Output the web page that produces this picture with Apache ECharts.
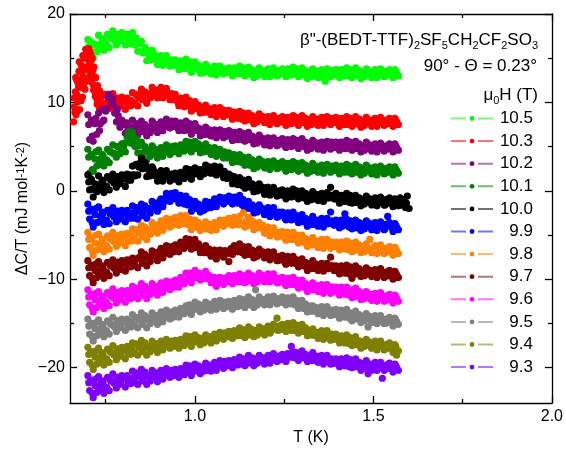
<!DOCTYPE html>
<html><head><meta charset="utf-8">
<script src="https://cdn.jsdelivr.net/npm/echarts@6/dist/echarts.min.js"></script>
<style>html,body{margin:0;padding:0;background:#fff}#c{width:566px;height:452px}</style>
</head><body><div id="c"></div>
<script>
// Field labels (mu0 H in tesla) and colours
const fields = ['10.5','10.3','10.2','10.1','10.0','9.9','9.8','9.7','9.6','9.5','9.4','9.3'];
const colors = ['#00ff00','#ff0000','#800080','#008000','#000000','#0000ff','#ff8000','#800000','#ff00ff','#808080','#808000','#8000ff'];
// temperature sampling of the two sweeps of each series (K)
const startT = [0.70,0.75,0.70,0.70,0.70,0.70,0.70,0.70,0.70,0.70,0.70,0.70];
const stepT = 0.005;
const startTB = [0.7025,0.7525,0.7025,0.7025,0.7025,0.7025,0.7025,0.7025,0.7025,0.7025,0.7025,0.7025];
const stepTB = 0.01;
const xMajorTicks = [1.0,1.5,2.0];
const xMinorTicks = [0.75,1.25,1.75];
const yMajorTicks = [-20,-10,0,10,20];
const yMinorTicks = [-15,-5,5,15];

// Delta C / T (mJ mol^-1 K^-2), offset curves, sweep A
const y105 = [17.1,15.6,16.8,15.0,16.5,15.7,17.6,16.6,17.2,15.9, 16.5,17.7,16.2,17.3,18.1,17.0,16.5,17.7,16.9,17.9, 17.5,16.5,17.7,17.2,16.6,17.9,16.6,17.3,15.8,16.7, 16.9,15.6,16.2,14.7,15.5,14.8,15.9,15.0,15.3,14.3, 14.5,15.3,14.2,14.8,15.3,14.5,14.1,14.8,14.2,14.8, 14.5,13.7,14.7,14.2,13.8,14.9,13.9,14.6,13.4,14.3, 14.6,13.8,14.2,13.3,13.9,13.4,14.3,13.6,13.9,13.2, 13.4,14.1,13.1,13.7,14.1,13.5,13.2,13.7,13.4,13.9, 13.6,13.0,13.9,13.5,13.2,14.1,13.3,13.9,13.0,13.7, 14.0,13.2,13.7,12.8,13.5,13.0,13.9,13.3,13.6,12.9, 13.1,13.8,12.9,13.5,13.9,13.3,13.0,13.6,13.2,13.8, 13.5,12.9,13.8,13.4,13.1,14.0,13.2,13.8,12.9,13.6, 13.9,13.1,13.6,12.7,13.4,12.9,13.8,13.2,13.5,12.8, 13.0,13.7,12.8,12.4,13.8,13.2,12.9,13.5,13.1,13.7, 13.4,12.8,13.7,13.3,13.0,13.9,13.1,13.7,12.8,13.5, 13.9,13.1,13.6,12.7,13.4,12.9,13.8,13.2,13.5,12.8, 13.0,13.7,12.8,13.4,13.8,13.2,12.9,13.5,13.1,13.7, 13.4,12.8,13.7,13.3,13.0];
const redSpike = [[0.660,7.8],[0.661,10.5],[0.662,9.5],[0.664,8.9],[0.665,11.2],[0.666,12.8],[0.667,8.6],[0.669,10.9],[0.670,12.4],[0.671,9.0],[0.672,10.1],[0.674,11.8],[0.675,13.5],[0.676,14.6],[0.677,9.2],[0.679,12.5],[0.680,11.7],[0.681,10.2],[0.682,14.2],[0.684,13.4],[0.685,10.6],[0.686,15.3],[0.687,12.9],[0.689,12.2],[0.690,15.0],[0.691,14.0],[0.692,11.5],[0.694,16.0],[0.695,13.8],[0.696,12.4],[0.697,15.7],[0.699,14.9],[0.700,12.6],[0.701,13.7],[0.702,16.1],[0.704,15.9],[0.705,14.4],[0.706,13.0],[0.707,15.5],[0.709,14.7],[0.710,13.1],[0.711,12.3],[0.712,15.0],[0.714,13.6],[0.715,12.0],[0.716,11.4],[0.717,14.0],[0.719,12.9],[0.720,11.2],[0.721,10.7],[0.722,12.8],[0.724,11.6],[0.725,10.4],[0.726,9.8],[0.727,11.9],[0.729,10.9],[0.730,10.0],[0.732,9.4],[0.733,11.3],[0.735,10.4],[0.736,9.6],[0.738,9.9],[0.740,10.8],[0.741,9.5],[0.743,9.9],[0.746,10.9]];
const y103 = [9.8,10.9,9.3,10.3,11.0,9.8,9.3,10.4,9.6,10.6, 10.2,9.2,10.5,10.1,9.6,11.1,9.9,10.9,9.6,10.8, 11.5,10.4,11.2,9.9,11.0,10.5,11.7,11.0,11.4,10.5, 10.8,11.7,10.5,11.2,11.6,10.8,10.3,11.0,10.3,10.9, 10.4,9.6,10.5,10.0,9.5,10.6,9.6,10.2,9.0,9.9, 10.1,9.3,9.7,8.8,9.4,8.9,9.7,9.1,9.3,8.6, 8.7,9.4,8.4,9.0,9.4,8.8,8.4,9.0,8.6,9.1, 8.7,8.1,8.9,8.5,8.2,9.0,8.3,8.8,7.9,8.6, 8.8,8.0,8.5,7.6,8.3,7.8,8.7,8.1,8.4,7.7, 7.7,8.4,7.5,8.1,8.5,7.9,7.6,8.2,7.8,8.4, 8.0,7.4,8.3,7.9,7.6,8.5,7.7,8.3,7.4,8.1, 8.5,7.7,8.2,7.3,8.0,7.5,8.4,7.8,8.1,7.4, 7.6,8.3,7.4,7.9,8.4,7.8,7.5,8.1,7.7,8.3, 7.9,7.3,8.2,7.8,7.5,8.4,7.6,8.2,7.3,8.0, 8.4,7.6,8.1,7.2,7.9,7.4,8.3,7.7,8.0,7.3, 7.5,8.2,7.3,7.9,8.3,7.7,7.4,8.0,7.6,8.2, 7.9,7.3,8.2,7.8,7.5];
const y102 = [8.6,5.8,8.0,5.6,7.6,6.4,8.8,7.6,9.2,8.0, 9.0,10.6,10.9,10.1,10.4,8.8,7.8,8.5,7.2,8.0, 7.5,6.5,7.7,7.2,6.6,8.0,6.8,7.6,6.3,7.4, 7.9,6.7,7.5,6.2,7.2,6.6,7.9,7.1,7.5,6.6, 6.9,7.8,6.8,7.5,8.1,7.4,7.1,7.9,7.3,7.9, 7.5,6.8,7.7,7.3,6.8,7.9,6.9,7.6,6.4,7.3, 7.6,6.8,7.1,6.2,6.9,6.4,7.2,6.7,6.9,6.2, 6.2,6.9,6.0,6.5,6.9,6.3,6.0,6.6,6.2,6.8, 6.3,5.7,6.6,6.2,5.8,6.7,5.9,6.5,5.6,6.3, 6.6,5.8,6.2,5.3,5.9,5.4,6.3,5.6,5.9,5.2, 5.3,6.0,5.1,5.6,6.0,5.4,5.1,5.7,5.3,5.9, 5.5,4.9,5.8,5.4,5.0,5.9,5.1,5.7,4.8,5.5, 5.9,5.0,5.5,4.6,5.3,4.8,5.7,5.1,5.4,4.7, 4.8,5.5,4.6,5.2,5.6,5.0,4.7,5.3,4.9,5.5, 5.2,4.6,5.5,5.1,4.8,5.7,4.9,5.5,4.6,5.3, 5.6,4.8,5.3,4.4,5.1,4.6,5.5,4.9,5.2,4.5, 4.6,5.3,4.4,5.0,5.4,4.8,4.5,5.1,4.7,5.3, 5.0,4.4,5.3,4.9,4.6];
const y101 = [4.7,2.0,4.1,2.2,3.6,2.8,4.6,3.6,4.1,2.8, 3.4,4.7,3.2,4.4,5.2,4.2,3.8,5.0,4.2,5.3, 5.0,4.4,6.1,6.7,5.4,6.6,5.2,5.9,4.3,5.2, 5.5,4.2,5.0,3.5,4.5,3.9,5.1,4.3,4.7,3.7, 4.0,4.9,3.9,4.6,5.2,4.5,4.1,5.0,4.4,5.1, 4.9,4.2,5.2,4.9,4.5,5.6,4.7,5.5,4.4,5.3, 5.6,4.8,5.3,4.3,5.0,4.4,5.3,4.6,4.9,4.1, 4.3,4.9,3.9,4.4,4.7,4.0,3.7,4.2,3.7,4.3, 3.9,3.2,4.1,3.6,3.3,4.1,3.3,3.8,2.9,3.6, 3.8,2.9,3.5,2.5,3.3,2.7,3.6,3.0,3.3,2.6, 2.6,3.3,2.4,3.0,3.4,2.8,2.5,3.1,2.7,3.3, 2.8,2.2,3.1,2.7,2.4,3.3,2.5,3.1,2.2,2.9, 3.2,2.4,2.9,2.0,2.7,2.2,3.1,2.5,2.8,2.1, 2.2,2.9,2.0,2.6,3.0,2.4,2.1,2.7,2.3,2.9, 2.5,1.9,2.8,2.4,2.1,3.0,2.2,2.8,1.9,2.6, 3.0,2.2,2.7,1.8,2.5,2.0,2.9,2.3,2.6,1.9, 2.0,2.7,1.8,2.4,2.8,2.2,1.9,2.5,2.1,2.7, 2.4,1.8,2.7,2.3,2.0];
const y100 = [1.8,0.1,1.3,-0.7,0.8,-0.1,1.7,0.7,1.2,-0.2, 0.4,1.6,0.1,1.2,1.9,0.9,0.4,1.5,0.8,1.8, 1.4,0.5,1.9,1.5,1.2,2.8,1.8,3.0,1.8,3.1, 3.7,2.5,3.2,1.6,2.4,1.7,2.7,1.8,2.1,1.1, 1.4,2.3,1.1,1.8,2.3,1.6,1.1,1.9,1.3,2.0, 1.7,1.0,2.1,1.7,1.4,2.5,1.6,2.4,1.3,2.2, 2.6,1.9,2.4,1.6,2.4,1.9,2.9,2.4,2.7,2.0, 2.1,2.8,1.8,2.4,2.7,2.0,1.5,2.0,1.4,1.9, 1.5,0.8,1.6,1.1,0.7,1.5,0.7,1.2,0.3,0.9, 1.3,0.4,0.8,-0.1,0.5,0.0,0.8,0.1,0.4,-0.4, -0.2,0.4,-0.5,0.0,0.4,-0.3,-0.6,0.0,-0.5,0.1, -0.3,-0.9,0.0,-0.4,-0.7,0.2,-0.6,0.0,-0.9,-0.2, 0.0,-0.8,-0.3,-1.2,-0.5,-1.0,-0.1,-0.7,-0.4,-1.1, -1.0,-0.3,-1.2,-0.6,-0.2,-0.8,0.4,-0.5,-0.9,-0.3, -0.8,-1.4,-0.5,-0.9,-1.2,-0.3,-1.1,-0.5,-1.4,-0.7, -0.5,-1.3,-0.8,-1.7,-1.0,-1.5,-0.6,-1.2,-0.9,-1.6, -1.5,-0.8,-1.7,-1.1,-0.7,-1.3,-1.6,-1.0,-1.4,-0.8, -1.2,-1.8,-0.9,-1.3,-1.7,-0.8,-1.6,-1.0,-1.9,-0.6,-2.0];
const y099 = [-1.5,-3.2,-2.1,-4.1,-2.7,-3.6,-1.8,-2.9,-2.4,-3.8, -3.4,-2.2,-3.7,-2.6,-1.9,-3.0,-3.5,-2.4,-3.2,-2.2, -2.5,-3.5,-2.2,-2.6,-3.1,-1.7,-2.8,-1.9,-3.2,-2.0, -1.5,-2.6,-1.7,-3.1,-2.0,-2.5,-1.2,-1.9,-1.4,-2.3, -1.9,-0.9,-1.8,-0.9,-0.3,-0.8,-1.2,-0.3,-0.9,-0.2, -0.5,-1.4,-0.5,-1.0,-1.5,-0.6,-1.6,-1.0,-2.3,-1.5, -1.2,-2.0,-1.5,-2.4,-1.7,-2.2,-1.2,-1.7,-1.3,-1.9, -1.7,-0.9,-1.8,-1.1,-0.7,-1.2,-1.5,-0.9,-1.2,-0.6, -0.9,-1.5,-0.7,-1.1,-1.4,-0.5,-1.4,-1.0,-2.0,-1.4, -1.2,-2.0,-1.6,-2.5,-1.9,-2.4,-1.6,-2.2,-2.0,-2.7, -2.6,-1.9,-2.9,-2.3,-1.9,-2.6,-3.0,-2.4,-2.8,-2.4, -2.7,-3.3,-2.5,-2.9,-3.3,-2.4,-3.2,-2.8,-3.6,-3.0, -2.7,-3.5,-3.1,-4.0,-3.3,-3.8,-2.9,-3.5,-3.3,-4.0, -3.8,-3.1,-4.1,-3.5,-3.1,-3.7,-2.4,-3.5,-3.9,-3.3, -3.6,-4.2,-3.3,-3.8,-2.6,-3.2,-4.0,-3.4,-4.3,-3.6, -3.3,-4.1,-3.6,-4.5,-3.8,-4.3,-3.4,-4.0,-3.7,-4.4, -4.3,-3.6,-4.5,-3.9,-3.5,-4.1,-4.4,-3.8,-2.9,-3.6, -4.0,-4.6,-3.7,-4.1,-4.4];
const y098 = [-4.7,-6.4,-5.3,-7.3,-5.9,-6.7,-4.9,-6.0,-5.5,-6.9, -6.3,-5.1,-6.6,-5.5,-4.7,-5.8,-6.3,-5.1,-5.9,-4.9, -5.2,-6.2,-4.8,-5.3,-5.7,-4.3,-5.4,-4.4,-5.7,-4.5, -3.9,-5.0,-4.1,-5.5,-4.4,-4.9,-3.6,-4.3,-3.9,-4.8, -4.4,-3.4,-4.5,-3.7,-3.1,-3.8,-4.1,-3.2,-3.8,-3.0, -3.2,-3.9,-2.8,-3.2,-3.7,-2.8,-3.8,-3.2,-4.4,-3.6, -3.3,-4.1,-3.6,-4.5,-3.8,-4.3,-3.5,-4.1,-3.8,-4.5, -4.3,-3.6,-4.4,-3.7,-3.3,-3.8,-4.0,-3.4,-3.7,-3.1, -3.3,-3.9,-3.0,-3.5,-3.8,-2.9,-3.7,-2.5,-4.1,-3.4, -3.0,-3.9,-3.4,-4.4,-3.7,-4.2,-3.6,-4.2,-3.9,-4.8, -4.8,-4.1,-5.1,-4.5,-4.2,-4.8,-5.2,-4.7,-5.1,-4.6, -5.0,-5.6,-4.7,-5.2,-5.5,-4.7,-5.5,-5.0,-5.9,-5.3, -5.0,-5.8,-5.4,-6.3,-5.6,-6.1,-5.3,-5.9,-5.7,-6.4, -6.2,-5.5,-6.5,-5.9,-5.5,-6.1,-6.5,-5.9,-6.3,-5.8, -6.1,-6.7,-5.8,-6.3,-6.6,-5.7,-6.5,-5.9,-6.9,-6.2, -5.8,-6.6,-6.1,-7.0,-6.3,-6.9,-6.0,-6.6,-5.5,-7.0, -6.9,-6.2,-7.1,-6.5,-6.1,-6.8,-7.1,-6.5,-6.9,-6.3, -6.7,-7.3,-6.4,-6.8,-7.1];
const y097 = [-7.9,-9.6,-8.4,-10.4,-9.0,-9.8,-8.0,-9.0,-8.5,-9.9, -9.3,-8.1,-9.6,-8.5,-7.8,-8.8,-9.3,-8.1,-8.9,-7.9, -8.2,-9.1,-7.8,-8.2,-8.6,-7.6,-8.4,-7.7,-8.7,-7.5, -6.9,-8.0,-7.2,-8.5,-7.5,-8.0,-6.8,-7.4,-7.0,-7.9, -7.5,-6.5,-7.6,-6.8,-6.2,-6.9,-7.2,-6.3,-6.9,-6.1, -6.3,-6.9,-5.8,-6.2,-6.5,-5.4,-6.2,-5.5,-6.6,-5.8, -5.5,-6.4,-6.0,-7.0,-6.4,-7.0,-6.2,-6.9,-6.6,-7.4, -7.3,-6.7,-7.7,-7.1,-6.7,-7.3,-7.5,-6.8,-7.1,-8.0, -6.6,-7.2,-6.2,-6.6,-6.9,-6.0,-6.9,-6.3,-7.3,-6.7, -6.3,-7.1,-6.7,-7.6,-6.9,-7.4,-6.6,-7.2,-6.9,-7.6, -7.5,-6.9,-7.8,-7.2,-6.9,-7.6,-7.9,-7.4,-7.8,-7.3, -7.7,-8.3,-7.4,-7.9,-8.2,-7.4,-8.2,-7.8,-8.6,-8.0, -7.7,-8.5,-8.1,-9.0,-8.3,-8.8,-7.9,-8.6,-8.3,-9.0, -8.9,-8.2,-9.1,-8.6,-8.2,-8.8,-7.5,-8.5,-9.0,-8.5, -8.8,-9.4,-8.5,-9.0,-9.3,-8.4,-9.2,-8.6,-9.9,-8.9, -8.5,-9.3,-8.8,-9.7,-9.1,-9.6,-8.7,-9.3,-9.0,-9.7, -9.6,-8.9,-9.8,-9.2,-8.8,-9.5,-9.8,-9.2,-9.6,-9.0, -9.4,-10.0,-9.1,-9.5,-9.8];
const y096 = [-11.2,-12.9,-11.7,-13.7,-12.3,-13.2,-11.4,-12.4,-11.9,-13.3, -12.7,-11.5,-13.0,-11.9,-11.1,-12.2,-12.7,-11.5,-12.3,-11.3, -11.6,-12.6,-11.3,-11.7,-12.2,-10.8,-11.9,-11.0,-12.2,-11.1, -10.5,-11.7,-10.8,-12.2,-11.2,-11.7,-10.5,-11.2,-10.8,-11.8, -11.4,-10.4,-11.5,-10.8,-10.2,-10.8,-11.2,-10.3,-10.9,-10.1, -10.3,-10.9,-9.8,-10.2,-10.5,-9.3,-10.1,-9.3,-10.4,-9.4, -9.0,-9.8,-9.3,-10.1,-9.4,-9.9,-9.1,-9.8,-9.6,-10.4, -10.4,-9.8,-10.8,-10.2,-9.8,-10.3,-10.6,-9.9,-10.3,-9.6, -9.9,-10.5,-9.6,-10.0,-10.3,-9.4,-10.2,-9.6,-10.4,-9.7, -9.3,-10.1,-9.6,-10.5,-9.8,-10.3,-9.3,-9.9,-9.6,-10.3, -10.1,-9.4,-10.3,-9.8,-9.4,-10.0,-10.4,-9.9,-10.3,-9.8, -10.1,-10.7,-9.9,-10.3,-10.6,-9.8,-10.6,-10.1,-11.0,-10.4, -10.1,-10.9,-10.5,-11.4,-10.7,-11.2,-10.4,-11.0,-10.7,-11.4, -11.3,-10.6,-11.6,-11.0,-10.6,-11.2,-11.6,-10.9,-11.4,-10.9, -11.2,-11.8,-10.9,-11.4,-11.7,-10.9,-11.7,-11.2,-12.1,-11.4, -11.0,-11.9,-11.4,-12.3,-11.6,-12.2,-11.4,-12.0,-11.7,-12.4, -12.3,-11.6,-12.5,-11.9,-11.5,-12.1,-12.5,-11.9,-12.3,-11.7, -12.1,-12.7,-11.8,-12.2,-12.5];
const y095 = [-14.5,-16.2,-15.0,-17.0,-15.6,-16.4,-14.6,-15.6,-15.1,-16.5, -15.9,-14.7,-16.2,-15.1,-14.3,-15.4,-15.9,-14.7,-15.5,-14.5, -14.8,-15.8,-14.5,-14.9,-15.4,-14.0,-15.2,-14.3,-15.5,-14.4, -13.8,-14.9,-14.1,-15.5,-14.4,-15.0,-13.8,-14.5,-14.1,-15.1, -14.7,-13.7,-14.8,-14.1,-13.5,-14.2,-14.5,-13.7,-14.3,-13.5, -13.7,-14.3,-13.3,-13.6,-13.9,-13.0,-13.7,-12.9,-14.0,-13.0, -12.6,-13.4,-12.8,-13.7,-13.0,-13.5,-12.6,-13.1,-12.8,-13.5, -13.2,-12.5,-13.4,-12.8,-12.4,-13.0,-13.3,-12.7,-13.1,-12.5, -12.8,-13.4,-12.4,-12.8,-13.1,-12.2,-12.9,-12.3,-13.2,-12.5, -12.0,-12.8,-12.3,-13.2,-11.2,-12.9,-12.0,-12.6,-12.3,-12.9, -12.7,-12.0,-12.9,-12.3,-11.9,-12.5,-12.8,-12.2,-12.6,-12.0, -12.3,-12.9,-12.1,-12.5,-12.8,-12.0,-12.9,-12.4,-13.3,-12.7, -12.4,-13.3,-12.8,-13.7,-13.0,-13.6,-13.0,-13.5,-13.2,-13.9, -13.8,-13.1,-14.1,-13.5,-13.1,-13.8,-14.1,-13.6,-14.0,-13.4, -13.8,-14.4,-13.5,-14.0,-14.3,-13.4,-14.3,-13.8,-14.7,-14.0, -13.6,-14.4,-14.0,-14.9,-14.2,-14.7,-13.9,-15.4,-14.2,-14.9, -14.8,-14.1,-15.0,-14.5,-14.1,-14.7,-15.0,-14.5,-14.9,-14.3, -14.7,-15.3,-14.4,-14.8,-15.1];
const y094 = [-17.7,-19.4,-18.2,-20.2,-18.8,-19.6,-17.8,-18.8,-18.3,-19.7, -19.1,-17.9,-19.4,-18.3,-17.5,-18.6,-19.1,-17.9,-18.7,-17.7, -18.0,-19.0,-17.6,-18.1,-18.5,-17.2,-18.3,-17.3,-18.6,-17.5, -16.9,-18.1,-17.2,-18.6,-17.6,-18.2,-17.0,-17.7,-17.3,-18.3, -17.9,-17.0,-18.0,-17.3,-16.8,-17.5,-17.8,-17.0,-17.6,-16.9, -17.1,-17.8,-16.8,-17.1,-17.5,-16.4,-17.2,-16.5,-17.6,-16.7, -16.3,-17.1,-16.6,-17.4,-16.7,-17.2,-16.3,-16.8,-16.5,-17.2, -16.9,-16.2,-17.0,-16.4,-16.0,-16.6,-16.8,-16.1,-16.5,-15.9, -16.1,-16.7,-15.8,-16.1,-16.4,-15.5,-16.3,-15.7,-16.6,-15.9, -15.4,-16.2,-15.7,-16.5,-15.8,-16.3,-15.4,-15.9,-15.6,-16.3, -16.0,-15.3,-16.1,-15.5,-15.1,-15.6,-14.4,-15.3,-15.7,-15.1, -15.3,-15.9,-15.0,-15.5,-15.8,-14.9,-15.8,-15.2,-16.1,-15.4, -15.1,-15.9,-15.5,-16.4,-15.8,-16.3,-15.6,-16.3,-16.0,-16.7, -16.5,-15.8,-16.8,-16.2,-15.8,-16.5,-16.9,-16.3,-16.8,-16.2, -16.6,-17.2,-16.4,-16.9,-17.2,-16.3,-17.1,-16.6,-17.5,-16.8, -16.5,-17.3,-17.0,-17.8,-17.1,-17.6,-16.8,-17.4,-17.1,-17.8, -17.7,-17.0,-18.0,-17.4,-17.0,-17.6,-18.0,-17.4,-17.8,-17.2, -17.7,-18.3,-17.4,-18.6,-18.1];
const y093 = [-20.9,-22.6,-21.4,-23.4,-22.0,-22.8,-21.0,-22.0,-21.5,-22.9, -22.3,-21.1,-22.6,-21.5,-20.7,-21.8,-22.3,-21.1,-21.9,-20.9, -21.2,-22.2,-20.9,-21.3,-21.8,-20.4,-21.5,-20.6,-21.9,-20.8, -20.2,-21.4,-20.5,-21.9,-20.9,-21.5,-20.3,-21.0,-20.6,-21.6, -21.2,-20.3,-21.3,-20.6,-20.1,-20.8,-21.1,-20.3,-20.9,-20.2, -20.4,-21.1,-20.1,-20.4,-20.8,-19.7,-20.5,-19.8,-20.9,-20.0, -19.6,-20.4,-19.8,-20.7,-20.0,-20.4,-19.5,-20.0,-19.7,-20.4, -20.1,-19.4,-20.3,-19.6,-19.2,-19.8,-20.1,-19.5,-19.8,-19.2, -19.4,-20.0,-19.1,-19.4,-19.7,-18.8,-19.5,-19.0,-19.8,-19.1, -18.6,-19.4,-18.9,-19.8,-19.0,-19.5,-18.6,-19.2,-18.9,-19.6, -19.3,-18.6,-19.5,-18.9,-18.4,-19.0,-19.3,-18.7,-19.1,-18.5, -18.7,-19.3,-18.4,-18.8,-17.6,-18.2,-18.9,-18.3,-19.2,-18.5, -18.1,-18.9,-18.5,-19.3,-18.7,-19.2,-18.3,-18.9,-18.7,-19.4, -19.3,-18.6,-19.6,-19.0,-18.6,-19.3,-19.6,-19.1,-19.5,-19.0, -19.3,-19.9,-19.0,-19.5,-19.8,-18.9,-19.7,-19.1,-20.0,-19.4, -19.0,-19.8,-19.4,-20.3,-19.6,-20.1,-19.2,-20.7,-19.6,-20.3, -20.1,-19.4,-20.3,-19.8,-19.4,-21.2,-20.3,-19.7,-20.1,-19.5, -19.9,-20.5,-19.6,-20.0,-20.3];

// sweep B (interleaved temperatures)
const b105 = [16.3,15.7,16.5,16.0,17.1, 16.6,17.4,17.1,17.7,17.1, 17.7,17.0,17.2,16.5,16.7, 15.7,16.0,15.3,15.7,14.8, 15.2,14.6,14.8,14.3,14.7, 14.1,14.5,14.1,14.5,13.9, 14.3,13.7,13.9,13.5,13.8, 13.5,13.8,13.6,13.8,13.4, 13.8,13.3,13.6,13.2,13.6, 13.2,13.6,13.4,13.7,13.3, 13.7,13.2,13.5,13.1,13.5, 13.2,13.6,13.4,13.7,13.3, 13.6,13.1,13.4,13.0,13.4, 13.1,13.5,13.3,13.6,13.2, 13.6,13.1,13.4,13.0,13.4, 13.1,13.5,13.3,13.6,13.2, 13.6,13.1,13.4,13.0,13.4, 13.2,13.5];
const b103 = [9.9,10.5,10.0,10.5,9.8, 10.4,9.8,10.2,9.8,10.5, 10.3,11.0,10.8,11.5,10.9, 11.5,10.9,11.1,10.5,10.8, 10.0,10.3,9.8,10.2,9.5, 9.8,9.2,9.4,8.9,9.2, 8.8,9.1,8.8,9.1,8.6, 8.9,8.3,8.6,8.1,8.5, 8.1,8.4,8.2,8.4,8.0, 8.3,7.8,8.1,7.7,8.1, 7.7,8.1,7.9,8.2,7.8, 8.2,7.7,8.0,7.6,8.0, 7.6,8.1,7.8,8.2,7.8, 8.1,7.6,7.9,7.5,7.9, 7.6,8.0,7.8,8.1,7.7, 8.1,7.6,7.9,7.5,7.9, 7.7,8.0];
const b102 = [7.5,6.2,8.2,6.8,7.9, 9.3,10.4,9.6,9.2,7.6, 7.7,7.0,7.2,6.7,7.2, 6.7,7.3,7.0,7.7,7.0, 7.6,7.2,7.6,7.3,7.8, 7.1,7.5,7.1,7.5,6.9, 7.3,6.7,6.9,6.4,6.8, 6.4,6.7,6.4,6.7,6.2, 6.6,6.0,6.2,5.8,6.1, 5.8,6.1,5.8,6.1,5.6, 5.9,5.3,5.6,5.2,5.5, 5.1,5.6,5.3,5.7,5.3, 5.5,5.1,5.3,5.0,5.4, 4.9,5.4,5.1,5.5,5.1, 5.4,4.9,5.2,4.8,5.2, 4.8,5.2,5.0,5.3,4.9, 5.2,4.8,5.0,4.7,5.1, 4.8,5.1];
const b101 = [3.8,2.4,4.4,3.0,4.0, 3.5,4.4,4.2,5.0,4.4, 5.4,5.5,5.9,5.0,5.1, 4.3,4.7,4.3,4.9,4.2, 4.7,4.3,4.7,4.3,4.9, 4.5,5.0,4.8,5.3,4.9, 5.3,4.8,5.0,4.5,4.8, 4.3,4.6,4.2,4.4,3.8, 4.1,3.5,3.7,3.2,3.5, 3.1,3.4,3.1,3.4,2.9, 3.2,2.7,3.0,2.6,3.0, 2.5,2.9,2.7,3.0,2.6, 2.8,2.4,2.6,2.3,2.7, 2.3,2.7,2.5,2.8,2.4, 2.7,2.2,2.5,2.1,2.5, 2.1,2.6,2.3,2.7,2.3, 2.6,2.1,2.4,2.0,2.4, 2.1,2.4];
const b100 = [1.0,0.2,0.7,0.1,1.1, 0.5,1.3,0.9,1.6,1.0, 1.6,1.2,1.8,1.7,2.7, 2.5,2.9,2.2,2.5,1.6, 2.1,1.5,1.8,1.3,1.8, 1.3,1.9,1.7,2.2,1.8, 2.3,1.9,2.4,2.1,2.6, 2.2,2.5,2.2,2.2,1.5, 1.7,1.0,1.1,0.6,0.9, 0.5,0.7,0.4,0.6,0.1, 0.4,-0.2,-0.1,-0.5,-0.2, -0.6,-0.2,-0.4,-0.1,-0.5, -0.3,-0.8,-0.5,-0.9,-0.5, -1.0,-0.6,-0.8,-0.5,-0.9, -0.7,-1.2,-0.9,-1.3,-0.9, -1.3,-0.9,-1.1,-0.8,-1.2, -1.0,-1.4,-1.2,-1.6,-1.2, -1.5,-1.1,-1.3,-1.6,-1.4];
const b099 = [-2.3,-3.6,-2.0,-3.5,-2.6, -3.3,-2.6,-2.9,-2.3,-3.0, -2.4,-3.0,-2.5,-3.1,-2.3, -2.8,-2.0,-2.1,-1.4,-1.8, -1.1,-1.3,-0.7,-1.0,-0.5, -1.0,-0.7,-1.2,-1.1,-1.9, -1.5,-2.0,-1.8,-2.0,-1.4, -1.6,-1.1,-1.2,-0.8,-1.1, -0.8,-1.3,-1.1,-1.6,-1.4, -2.0,-1.7,-2.0,-1.8,-2.3, -2.1,-2.7,-2.5,-2.9,-2.6, -3.1,-2.8,-3.1,-2.8,-3.3, -3.1,-3.6,-3.4,-3.8,-3.4, -3.8,-3.4,-3.7,-3.4,-3.8, -3.5,-4.0,-3.7,-4.1,-3.7, -4.2,-3.7,-4.0,-3.6,-4.0, -3.8,-4.2,-4.0,-4.3,-3.9, -4.2,-3.9];
const b098 = [-5.5,-6.8,-5.0,-6.6,-5.6, -6.2,-5.4,-5.7,-5.1,-5.7, -5.1,-5.6,-5.1,-5.6,-4.8, -5.2,-4.4,-4.6,-3.9,-4.4, -3.7,-4.1,-3.6,-4.0,-3.3, -3.6,-3.0,-3.4,-3.3,-4.0, -3.7,-4.2,-4.0,-4.3,-3.9, -4.3,-3.7,-3.8,-3.3,-3.6, -3.2,-3.6,-3.4,-3.8,-3.5, -3.9,-3.6,-4.0,-3.8,-4.4, -4.3,-4.9,-4.7,-5.2,-4.9, -5.4,-5.0,-5.4,-5.1,-5.6, -5.4,-5.9,-5.7,-6.1,-5.8, -6.2,-5.8,-6.1,-5.8,-6.3, -6.0,-6.5,-6.3,-6.7,-6.3, -6.7,-6.3,-6.6,-6.3,-6.7, -6.4,-6.9,-6.7,-7.0,-6.7, -7.0,-6.6];
const b097 = [-8.7,-9.9,-8.3,-9.6,-8.7, -9.2,-8.4,-8.7,-8.1,-8.7, -8.1,-8.6,-8.1,-8.5,-7.7, -8.2,-7.4,-7.6,-6.9,-7.4, -6.8,-7.2,-6.7,-7.0,-6.4, -6.7,-6.0,-6.2,-5.7,-6.2, -5.9,-6.5,-6.5,-7.0,-6.7, -7.3,-7.0,-7.3,-6.8,-7.0, -6.5,-6.8,-6.6,-7.0,-6.7, -7.2,-6.8,-7.1,-6.8,-7.3, -7.0,-7.6,-7.4,-7.9,-7.6, -8.1,-7.7,-8.1,-7.8,-8.3, -8.1,-8.6,-8.4,-8.8,-8.5, -8.9,-8.5,-8.8,-8.5,-9.0, -8.7,-9.2,-9.0,-9.4,-9.0, -9.4,-9.0,-9.3,-8.9,-9.4, -9.1,-9.6,-9.4,-9.7,-9.4, -9.7,-9.3];
const b096 = [-12.0,-13.3,-11.6,-12.9,-12.0, -12.6,-11.8,-12.1,-11.5,-12.1, -11.5,-12.0,-11.5,-12.0,-11.3, -11.8,-11.1,-11.3,-10.7,-11.3, -10.7,-11.1,-10.7,-11.0,-10.4, -10.7,-10.1,-10.2,-9.6,-9.9, -9.4,-9.8,-9.5,-9.9,-9.7, -10.4,-10.1,-10.4,-9.9,-10.2, -9.8,-10.2,-9.9,-10.3,-9.8, -10.2,-9.7,-9.9,-9.5,-9.9, -9.6,-10.1,-9.9,-10.4,-10.1, -10.5,-10.2,-10.5,-10.2,-10.7, -10.5,-11.0,-10.8,-11.2,-10.9, -11.3,-10.9,-11.2,-10.9,-11.4, -11.1,-11.6,-11.4,-11.8,-11.5, -11.9,-11.5,-11.9,-11.6,-12.1, -11.8,-12.3,-12.1,-12.4,-12.1, -12.4,-12.0];
const b095 = [-15.3,-16.5,-14.9,-16.2,-15.3, -15.8,-15.0,-15.3,-14.7,-15.3, -14.7,-15.2,-14.8,-15.3,-14.6, -15.1,-14.4,-14.6,-14.0,-14.6, -14.0,-14.4,-14.0,-14.4,-13.8, -14.1,-13.5,-13.7,-13.1,-13.5, -13.0,-13.4,-13.0,-13.3,-12.9, -13.2,-12.7,-13.0,-12.6,-13.0, -12.7,-13.1,-12.8,-13.0,-12.6, -12.9,-12.4,-12.6,-12.2,-12.6, -12.2,-12.6,-12.4,-12.7,-12.3, -12.7,-12.4,-12.7,-12.5,-13.0, -12.8,-13.3,-13.2,-13.6,-13.3, -13.8,-13.4,-13.7,-13.5,-14.0, -13.7,-14.2,-14.0,-14.4,-14.1, -14.5,-14.1,-14.4,-14.1,-14.6, -14.3,-14.8,-14.6,-15.0,-14.6, -15.0,-14.6];
const b094 = [-18.5,-19.7,-18.1,-19.4,-18.5, -19.0,-18.2,-18.5,-17.9,-18.5, -17.9,-18.4,-17.9,-18.4,-17.7, -18.2,-17.5,-17.8,-17.2,-17.8, -17.2,-17.7,-17.3,-17.7,-17.1, -17.5,-17.0,-17.2,-16.7,-17.1, -16.7,-17.1,-16.8,-17.0,-16.6, -16.9,-16.3,-16.5,-16.1,-16.4, -16.0,-16.4,-16.1,-16.4,-16.0, -16.3,-15.8,-15.9,-15.5,-15.9, -15.5,-15.9,-15.6,-15.8,-15.4, -15.7,-15.3,-15.6,-15.3,-15.7, -15.5,-16.0,-15.9,-16.3,-16.0, -16.5,-16.1,-16.5,-16.2,-16.7, -16.5,-17.0,-16.9,-17.3,-17.0, -17.4,-17.0,-17.3,-17.0,-17.5, -17.2,-17.7,-17.5,-17.9,-17.6, -17.9,-17.6];
const b093 = [-21.7,-22.9,-21.3,-22.6,-21.7, -22.2,-21.4,-21.7,-21.1,-21.7, -21.1,-21.6,-21.2,-21.7,-21.0, -21.5,-20.8,-21.1,-20.5,-21.1, -20.5,-20.9,-20.6,-21.0,-20.4, -20.8,-20.3,-20.5,-20.0,-20.4, -20.0,-20.3,-20.0,-20.3,-19.8, -20.1,-19.6,-19.8,-19.3,-19.7, -19.3,-19.6,-19.3,-19.6,-19.2, -19.5,-19.0,-19.2,-18.8,-19.2, -18.8,-19.2,-18.9,-19.2,-18.8, -19.1,-18.6,-18.8,-18.4,-18.8, -18.5,-19.0,-18.8,-19.2,-18.8, -19.3,-18.9,-19.3,-19.0,-19.5, -19.2,-19.7,-19.5,-19.9,-19.5, -19.9,-19.5,-19.8,-19.5,-19.9, -19.6,-20.1,-19.9,-20.2,-19.9, -20.2,-19.8];

const seriesValues = [y105,y103,y102,y101,y100,y099,y098,y097,y096,y095,y094,y093];
const seriesValuesB = [b105,b103,b102,b101,b100,b099,b098,b097,b096,b095,b094,b093];

const FONT = "'Liberation Sans', Arial, sans-serif";
function points(i){
  const a = seriesValues[i].map((v,k)=>[+(startT[i]+k*stepT).toFixed(4), v]);
  const b = seriesValuesB[i].map((v,k)=>[+(startTB[i]+k*stepTB).toFixed(4), v]);
  const all = a.concat(b);
  return i === 1 ? redSpike.concat(all) : all;
}
// legend-only line series (no data), then the scatter data series with the same names
const legendSeries = fields.map((f,i)=>({
  type:'line', name:f, data:[], symbol:'circle', silent:true,
  lineStyle:{color:colors[i], width:1.5, opacity:0.55, type:[15,12]}, itemStyle:{color:colors[i]}
}));
const dataSeries = fields.map((f,i)=>({
  type:'scatter', name:f, data: points(i), xAxisIndex:0, yAxisIndex:0,
  symbol:'circle', symbolSize:7.2, large:false,
  itemStyle:{color:colors[i], opacity:1},
  emphasis:{disabled:true}, silent:true, animation:false
}));

const axisCommon = {type:'value', splitLine:{show:false}, axisLabel:{show:false}};
const lineS = {color:'#000', width:1.3};
function xA(extra){ return Object.assign({}, axisCommon, {min:0.65, max:2.0}, extra); }
function yA(extra){ return Object.assign({}, axisCommon, {min:-24, max:20}, extra); }
const xAxes = [
  xA({position:'bottom',
    axisLine:{show:true, onZero:false, lineStyle:lineS},
    axisTick:{show:true, inside:true, length:7, customValues:xMajorTicks, lineStyle:lineS},
    axisLabel:{show:true, customValues:xMajorTicks, formatter:v=>v.toFixed(1), color:'#000', fontSize:16, fontFamily:FONT, margin:6},
    name:'T (K)', nameLocation:'middle', nameGap:26, nameTextStyle:{color:'#000', fontSize:16, fontFamily:FONT}}),
  xA({position:'bottom', axisLine:{show:false, onZero:false},
    axisTick:{show:true, inside:true, length:4, customValues:xMinorTicks, lineStyle:lineS}}),
  xA({position:'top', axisLine:{show:true, onZero:false, lineStyle:lineS},
    axisTick:{show:true, inside:true, length:7, customValues:xMajorTicks, lineStyle:lineS}}),
  xA({position:'top', axisLine:{show:false, onZero:false},
    axisTick:{show:true, inside:true, length:4, customValues:xMinorTicks, lineStyle:lineS}})
];
const yAxes = [
  yA({position:'left',
    axisLine:{show:true, onZero:false, lineStyle:lineS},
    axisTick:{show:true, inside:true, length:7, customValues:yMajorTicks, lineStyle:lineS},
    axisLabel:{show:true, customValues:yMajorTicks, formatter:v=> v < 0 ? '\u2212' + Math.abs(v) : String(v),
      color:'#000', fontSize:16, fontFamily:FONT, margin:5},
    name:'{m|ΔC/T (mJ mol}{p|-1}{m|K}{p|-2}{m|)}', nameLocation:'middle', nameGap:35, nameRotate:90,
    nameMoveOverlap:false,
    nameTextStyle:{color:'#000', fontSize:16, fontFamily:FONT, rich:{
      m:{fontSize:16, fontFamily:FONT, color:'#000', lineHeight:20, verticalAlign:'top'},
      p:{fontSize:11, fontFamily:FONT, color:'#000', lineHeight:11, verticalAlign:'top'}}}}),
  yA({position:'left', axisLine:{show:false, onZero:false},
    axisTick:{show:true, inside:true, length:4, customValues:yMinorTicks, lineStyle:lineS}}),
  yA({position:'right', axisLine:{show:true, onZero:false, lineStyle:lineS},
    axisTick:{show:true, inside:true, length:7, customValues:yMajorTicks, lineStyle:lineS}}),
  yA({position:'right', axisLine:{show:false, onZero:false},
    axisTick:{show:true, inside:true, length:4, customValues:yMinorTicks, lineStyle:lineS}})
];

const richAnno = {
  m:{fontSize:17, fontFamily:FONT, color:'#000', lineHeight:20, verticalAlign:'top'},
  s:{fontSize:11, fontFamily:FONT, color:'#000', lineHeight:11, verticalAlign:'top', padding:[8,0,0,0]}
};

const option = {
  animation:false,
  backgroundColor:'#fff',
  grid:{left:70, right:14, top:14, bottom:49, containLabel:false},
  xAxis:xAxes, yAxis:yAxes,
  legend:{
    orient:'vertical', left:445, top:105, itemWidth:42, itemHeight:6, itemGap:5.6,
    selectedMode:false,
    data: fields,
    formatter: n => '{a|' + n + '}',
    textStyle:{color:'#000', fontFamily:FONT, fontSize:17,
      rich:{a:{width:35, align:'right', fontSize:17, lineHeight:20, fontFamily:FONT, color:'#000'}}}
  },
  graphic:[
    {type:'text', x:538, y:32, silent:true, style:{
      text:'{m|β"-(BEDT-TTF)}{s|2}{m|SF}{s|5}{m|CH}{s|2}{m|CF}{s|2}{m|SO}{s|3}',
      rich:richAnno, align:'right', verticalAlign:'top'}},
    {type:'text', x:537, y:58, silent:true, style:{
      text:'{m|90° - Θ = 0.23°}', rich:richAnno, align:'right', verticalAlign:'top'}},
    {type:'text', x:538, y:87, silent:true, style:{
      text:'{m|μ}{s|0}{m|H (T)}', rich:richAnno, align:'right', verticalAlign:'top'}}
  ],
  series: legendSeries.concat(dataSeries)
};
const chart = echarts.init(document.getElementById('c'), null, {renderer:'canvas'});
chart.setOption(option);
</script></body></html>
